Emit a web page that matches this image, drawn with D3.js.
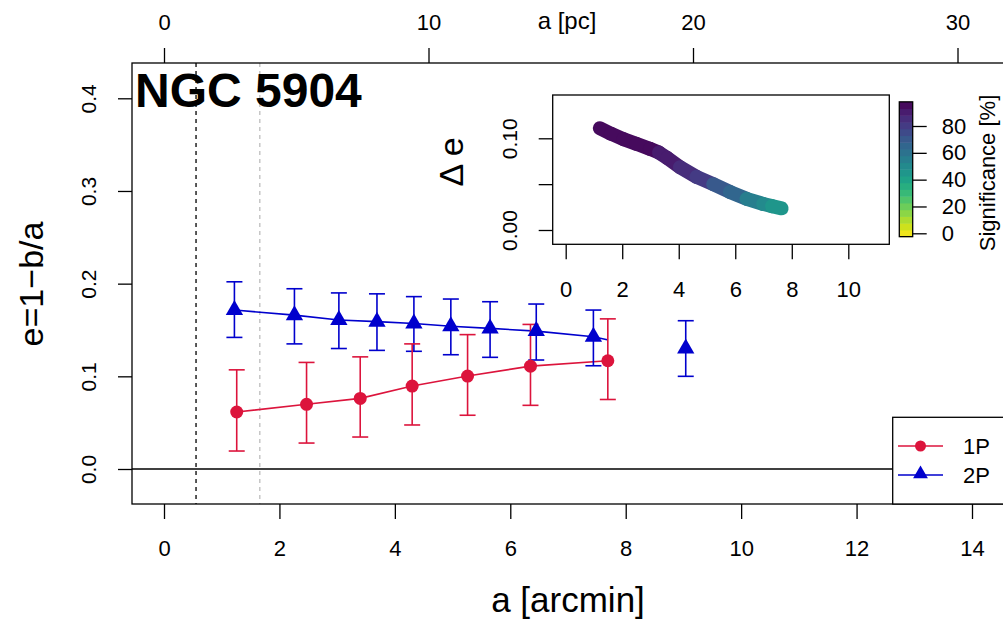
<!DOCTYPE html>
<html><head><meta charset="utf-8">
<script src="https://cdn.jsdelivr.net/npm/d3@7"></script>
<style>body{margin:0;background:#fff}svg{display:block;font-family:"Liberation Sans",Arial,sans-serif}</style>
</head><body><svg id="c" width="1003" height="622"></svg>
<script>
// ---- data ----
const a1P = [1.26, 2.47, 3.40, 4.30, 5.26, 6.35, 7.69];
const e1P = [0.0615, 0.0698, 0.0762, 0.0895, 0.1003, 0.111, 0.1168];
const e1PHi = [0.107, 0.115, 0.121, 0.135, 0.145, 0.156, 0.162];
const e1PLo = [0.0194, 0.028, 0.0345, 0.0475, 0.058, 0.0687, 0.075];

const a2P = [1.22, 2.26, 3.03, 3.69, 4.33, 4.97, 5.65, 6.45, 7.44, 9.04];
const e2P = [0.1715, 0.166, 0.1607, 0.159, 0.157, 0.154, 0.1517, 0.1488, 0.1427, 0.130];
const e2PHi = [0.202, 0.1945, 0.190, 0.189, 0.186, 0.1834, 0.1805, 0.178, 0.1715, 0.160];
const e2PLo = [0.142, 0.135, 0.130, 0.128, 0.127, 0.1233, 0.1205, 0.1176, 0.1114, 0.100];
// 2P trend line (stops at the 1P extent)
const a2PLine = [1.22, 2.26, 3.03, 3.69, 4.33, 4.97, 5.65, 6.45, 7.44, 7.68];
const e2PLine = [0.1715, 0.166, 0.1607, 0.159, 0.157, 0.154, 0.1517, 0.1488, 0.1427, 0.1395];

const aRefLines = [0.555, 1.66];
const xTicks = [0, 2, 4, 6, 8, 10, 12, 14];
const yTicks = [0.0, 0.1, 0.2, 0.3, 0.4];
const pcTicks = [0, 10, 20, 30];
const pcPerArcmin = 2.182;

// inset: delta e
const dA = [1.21, 1.6, 2.04, 2.5, 2.98, 3.3, 3.6, 4.04, 4.63, 5.22, 5.81, 6.4, 6.99, 7.3, 7.64];
const dE = [0.111, 0.105, 0.099, 0.094, 0.0885, 0.0845, 0.0785, 0.0685, 0.058, 0.050, 0.0415, 0.034, 0.0284, 0.026, 0.0236];
const dSig = [97, 97, 96, 95, 94, 92, 90, 87, 82, 76, 67, 60, 53, 48, 45];
const insetXTicks = [0, 2, 4, 6, 8, 10];
const insetYTicks = [0, 0.05, 0.10];
const insetYLabels = ["0.00", "", "0.10"];
const cbTicks = [0, 20, 40, 60, 80];

// ---- drawing ----
const svg = d3.select("#c");
const FONT = 22;
const box = {l: 132, r: 1010, t: 63, b: 504};
const x = d3.scaleLinear().domain([0, 14]).range([164, 972]);
const y = d3.scaleLinear().domain([0, 0.4]).range([469, 98.3]);
const xTop = d3.scaleLinear().domain([0, 14 * pcPerArcmin]).range([164, 972]);
const red = "#DC143C", blue = "#0000CD";

svg.append("clipPath").attr("id", "pc").append("rect")
  .attr("x", box.l).attr("y", box.t).attr("width", box.r - box.l).attr("height", box.b - box.t);
const plot = svg.append("g").attr("clip-path", "url(#pc)");

// reference dashed lines
plot.selectAll("line.ref").data(aRefLines).enter().append("line")
  .attr("x1", d => x(d)).attr("x2", d => x(d)).attr("y1", box.t).attr("y2", box.b)
  .attr("stroke", (d, i) => i === 0 ? "#000" : "#BEBEBE").attr("stroke-width", 1.3)
  .attr("stroke-dasharray", "4,4");
// zero line
plot.append("line").attr("x1", box.l).attr("x2", box.r).attr("y1", y(0)).attr("y2", y(0))
  .attr("stroke", "#000").attr("stroke-width", 1.3);

// lines
const line = d3.line().x(d => x(d[0])).y(d => y(d[1]));
plot.append("path").datum(a1P.map((a, i) => [a, e1P[i]])).attr("d", line)
  .attr("fill", "none").attr("stroke", red).attr("stroke-width", 1.6);
plot.append("path").datum(a2PLine.map((a, i) => [a, e2PLine[i]])).attr("d", line)
  .attr("fill", "none").attr("stroke", blue).attr("stroke-width", 1.6);

// error bars
function errBars(as, lo, hi, col) {
  const g = plot.append("g").attr("stroke", col).attr("stroke-width", 1.6);
  as.forEach((a, i) => {
    g.append("line").attr("x1", x(a)).attr("x2", x(a)).attr("y1", y(lo[i])).attr("y2", y(hi[i]));
    g.append("line").attr("x1", x(a) - 8).attr("x2", x(a) + 8).attr("y1", y(lo[i])).attr("y2", y(lo[i]));
    g.append("line").attr("x1", x(a) - 8).attr("x2", x(a) + 8).attr("y1", y(hi[i])).attr("y2", y(hi[i]));
  });
}
errBars(a2P, e2PLo, e2PHi, blue);
errBars(a1P, e1PLo, e1PHi, red);

// markers
const tri = d3.symbol().type(d3.symbolTriangle).size(130);
plot.selectAll("path.t").data(a2P).enter().append("path")
  .attr("d", tri).attr("transform", (d, i) => `translate(${x(d)},${y(e2P[i])})`).attr("fill", blue);
plot.selectAll("circle.p").data(a1P).enter().append("circle")
  .attr("cx", d => x(d)).attr("cy", (d, i) => y(e1P[i])).attr("r", 6.5).attr("fill", red);

// box
svg.append("rect").attr("x", box.l).attr("y", box.t).attr("width", box.r - box.l).attr("height", box.b - box.t)
  .attr("fill", "none").attr("stroke", "#000").attr("stroke-width", 1.3);

// axes
function styleAxis(g, size) {
  g.select(".domain").remove();
  g.selectAll(".tick line").attr("stroke", "#000").attr("stroke-width", 1.3);
  g.selectAll(".tick text").attr("font-size", size).attr("fill", "#000").attr("font-family", "Liberation Sans, Arial, sans-serif");
}
const gx = svg.append("g").attr("transform", `translate(0,${box.b})`)
  .call(d3.axisBottom(x).tickValues(xTicks).tickFormat(d3.format("d")).tickSize(15).tickPadding(21));
styleAxis(gx, FONT);
const gxt = svg.append("g").attr("transform", `translate(0,${box.t})`)
  .call(d3.axisTop(xTop).tickValues(pcTicks).tickFormat(d3.format("d")).tickSize(15).tickPadding(18));
styleAxis(gxt, FONT);
const gy = svg.append("g").attr("transform", `translate(${box.l},0)`)
  .call(d3.axisLeft(y).tickValues(yTicks).tickFormat(d3.format(".1f")).tickSize(14).tickPadding(0));
styleAxis(gy, 21);
gy.selectAll(".tick text").attr("text-anchor", "middle").attr("x", 0).attr("dy", 0)
  .attr("transform", "translate(-36,0) rotate(-90)");

// axis titles
svg.append("text").attr("x", x(7)).attr("y", 612).attr("text-anchor", "middle")
  .attr("font-size", 35).text("a [arcmin]");
svg.append("text").attr("x", 567).attr("y", 29).attr("text-anchor", "middle")
  .attr("font-size", 24).text("a [pc]");
svg.append("text").attr("transform", "translate(43,284) rotate(-90)")
  .attr("text-anchor", "middle").attr("font-size", 34).text("e=1\u2212b/a");
svg.append("text").attr("x", 135).attr("y", 107).attr("font-size", 48).attr("font-weight", "bold")
  .text("NGC 5904");

// legend
const lg = svg.append("g");
lg.append("rect").attr("x", 892.7).attr("y", 417.3).attr("width", 120).attr("height", box.b - 417.3)
  .attr("fill", "#fff").attr("stroke", "#000").attr("stroke-width", 1.3);
const legItems = [{lab: "1P", col: red, sym: "c"}, {lab: "2P", col: blue, sym: "t"}];
legItems.forEach((d, i) => {
  const yy = 446 + i * 29;
  lg.append("line").attr("x1", 898).attr("x2", 943).attr("y1", yy).attr("y2", yy)
    .attr("stroke", d.col).attr("stroke-width", 1.6);
  if (d.sym === "c") lg.append("circle").attr("cx", 920.5).attr("cy", yy).attr("r", 5.5).attr("fill", d.col);
  else lg.append("path").attr("d", d3.symbol().type(d3.symbolTriangle).size(95)).attr("transform", `translate(920.5,${yy - 1})`).attr("fill", d.col);
  lg.append("text").attr("x", 963).attr("y", yy + 8).attr("font-size", 22).text(d.lab);
});

// ---- inset ----
const ib = {l: 552.7, r: 889.3, t: 95, b: 244.3};
const ix = d3.scaleLinear().domain([0, 10]).range([565.7, 848.3]);
const iy = d3.scaleLinear().domain([0, 0.10]).range([230, 138.3]);
svg.append("rect").attr("x", ib.l).attr("y", ib.t).attr("width", ib.r - ib.l).attr("height", ib.b - ib.t)
  .attr("fill", "#fff").attr("stroke", "#000").attr("stroke-width", 1.3);

const cbMin = -2.5, cbMax = 98, nBins = 20;
const sigColor = s => {
  const k = Math.min(nBins - 1, Math.max(0, Math.floor((s - cbMin) / (cbMax - cbMin) * nBins)));
  return d3.interpolateViridis(1 - (k + 0.5) / nBins);
};
const ig = svg.append("g");
for (let i = 0; i < dA.length - 1; i++) {
  ig.append("line").attr("x1", ix(dA[i])).attr("y1", iy(dE[i])).attr("x2", ix(dA[i + 1])).attr("y2", iy(dE[i + 1]))
    .attr("stroke", sigColor((dSig[i] + dSig[i + 1]) / 2)).attr("stroke-width", 14).attr("stroke-linecap", "round");
}
const gix = svg.append("g").attr("transform", `translate(0,${ib.b})`)
  .call(d3.axisBottom(ix).tickValues(insetXTicks).tickFormat(d3.format("d")).tickSize(15).tickPadding(22));
styleAxis(gix, 22);
const giy = svg.append("g").attr("transform", `translate(${ib.l},0)`)
  .call(d3.axisLeft(iy).tickValues(insetYTicks).tickFormat((d, i) => insetYLabels[i]).tickSize(14));
styleAxis(giy, 21);
giy.selectAll(".tick text").attr("text-anchor", "middle").attr("x", 0).attr("dy", 0)
  .attr("transform", "translate(-36,0) rotate(-90)");
svg.append("text").attr("transform", "translate(463,162) rotate(-90)").attr("text-anchor", "middle")
  .attr("font-size", 34).text("\u0394 e");

// colorbar
const cs = d3.scaleLinear().domain([0, 80]).range([233.3, 126]);
const cbx = 899.3, cbw = 13.4;
const bins = d3.range(nBins);
const step = (cbMax - cbMin) / nBins;
svg.append("g").selectAll("rect").data(bins).enter().append("rect")
  .attr("x", cbx).attr("width", cbw)
  .attr("y", k => cs(cbMin + (k + 1) * step)).attr("height", k => cs(cbMin + k * step) - cs(cbMin + (k + 1) * step) + 0.5)
  .attr("fill", k => d3.interpolateViridis(1 - (k + 0.5) / nBins));
svg.append("rect").attr("x", cbx).attr("y", cs(cbMax)).attr("width", cbw).attr("height", cs(cbMin) - cs(cbMax))
  .attr("fill", "none").attr("stroke", "#000").attr("stroke-width", 1.3);
const gcb = svg.append("g").attr("transform", `translate(${cbx + cbw},0)`)
  .call(d3.axisRight(cs).tickValues(cbTicks).tickFormat(d3.format("d")).tickSize(14).tickPadding(15));
styleAxis(gcb, 22);
svg.append("text").attr("transform", "translate(995,173) rotate(-90)").attr("text-anchor", "middle")
  .attr("font-size", 22).text("Significance [%]");
</script></body></html>
